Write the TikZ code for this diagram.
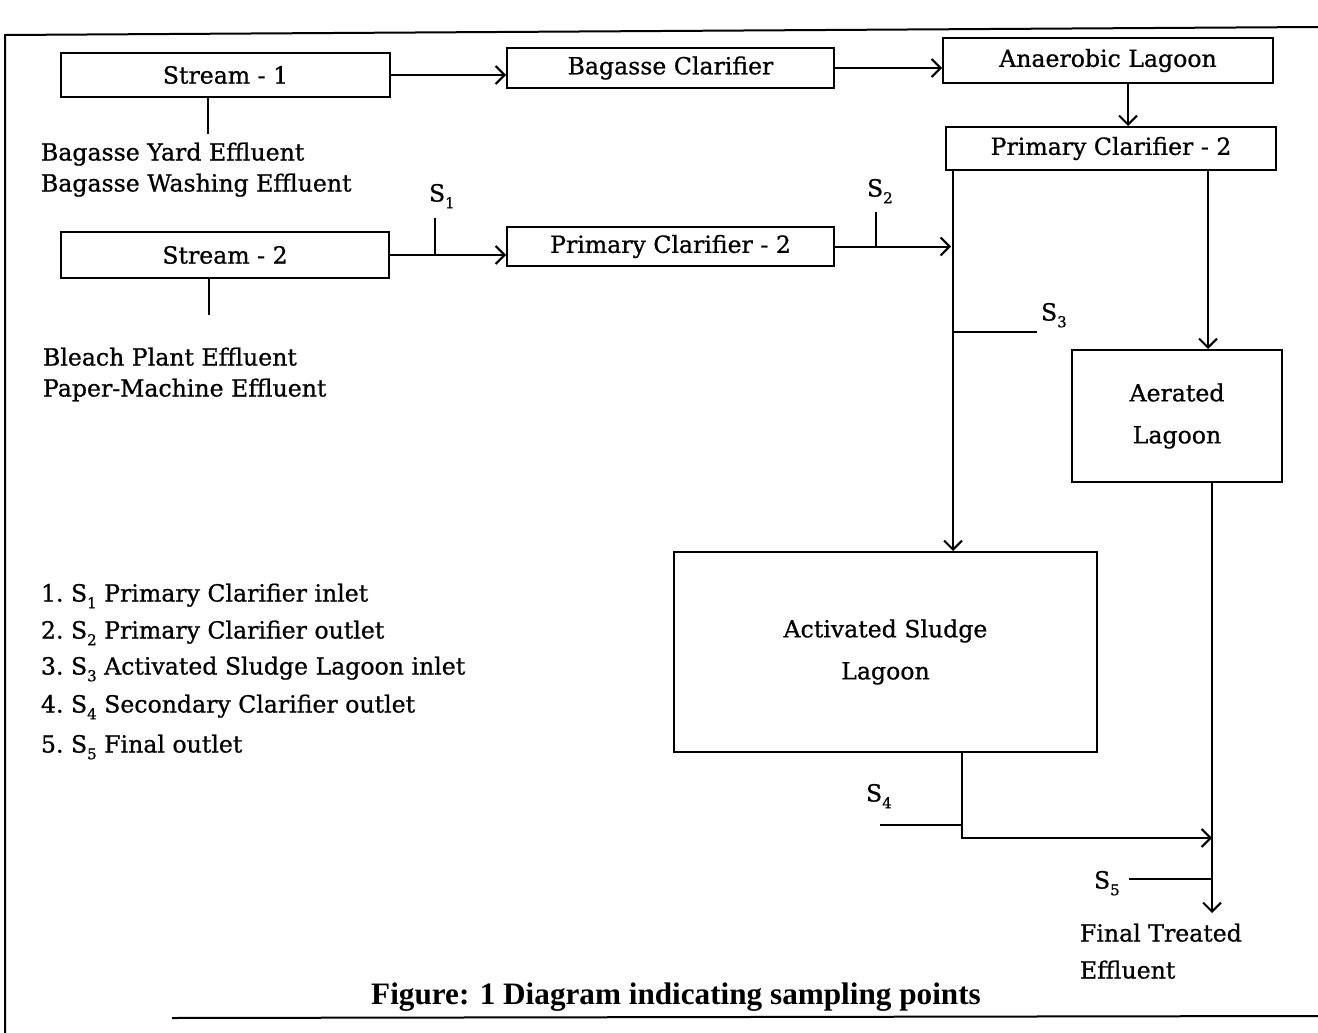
\documentclass[tikz,border=0pt]{standalone}
\usepackage{fontspec}
\setmainfont{DejaVu Serif}[FakeBold=0.8]
\newfontfamily\titlefont{Liberation Serif}
\usetikzlibrary{arrows.meta,calc}
\newcommand{\Ssub}[1]{S\raisebox{-0.55ex}{\fontsize{7.5}{7.5}\selectfont #1}}
\begin{document}
\begin{tikzpicture}[x=0.5pt,y=-0.5pt,
  line width=1pt,
  every node/.style={font=\fontsize{11.8}{21}\selectfont},
  box/.style={draw, line width=1pt, inner sep=0pt, align=center},
  lbl/.style={inner sep=0pt, text height=8.5pt, text depth=0pt, anchor=west},
  arr/.style={-{Straight Barb[length=4.5pt,width=9pt]}}]
\useasboundingbox (0,0) rectangle (1318,1033);
% frame
\draw (5,1033) -- (5,35) -- (1318,27);
\draw (172,1018) -- (1318,1016);
% boxes
\node[box, minimum width=164.5pt, minimum height=22pt] (s1) at (225.5,75) {Stream - 1};
\node[box, minimum width=163.5pt, minimum height=20pt] (bc) at (670.5,68) {Bagasse Clarifier};
\node[box, minimum width=165pt, minimum height=22.5pt] (al) at (1108,60.5) {Anaerobic Lagoon};
\node[box, minimum width=165pt, minimum height=21.5pt] (pc1) at (1111,148.5) {Primary Clarifier - 2};
\node[box, minimum width=164pt, minimum height=23pt] (s2) at (225,255) {Stream - 2};
\node[box, minimum width=163.5pt, minimum height=19.5pt] (pc2) at (670.5,246.5) {Primary Clarifier - 2};
\node[box, minimum width=105pt, minimum height=66pt] (aer) at (1177,416) {Aerated\\Lagoon};
\node[box, minimum width=211.5pt, minimum height=100pt] (asl) at (885.5,652) {Activated Sludge\\Lagoon};
% named coordinates
\coordinate (s1d) at ($(s1.south)+(-17.5,36)$);
\coordinate (s2d) at ($(s2.south)+(-16,36)$);
\coordinate (lvtop) at ([xshift=4pt]pc1.south west);
\coordinate (rvtop) at ([xshift=-34.5pt]pc1.south east);
\coordinate (j1) at (435,255);
\coordinate (j1t) at (435,218);
\coordinate (j2) at (876,246.5);
\coordinate (j2t) at (876,212);
\coordinate (j3) at (954,332);
\coordinate (j3e) at (1037,332);
\coordinate (abot) at ([xshift=38.25pt]asl.south);
\coordinate (j4) at ($(abot)+(0,85)$);
\coordinate (j4b) at ($(abot)+(0,72)$);
\coordinate (rbot) at ([xshift=17.5pt]aer.south);
\coordinate (fin) at ($(rbot)+(0,430)$);
\coordinate (j5) at ($(rbot)+(0,396)$);
% connectors
\draw[arr] (s1.east) -- (s1.east -| bc.west);
\draw[arr] (bc.east) -- (bc.east -| al.west);
\draw[arr] ([xshift=10pt]al.south) -- ([xshift=10pt]al.south |- pc1.north);
\draw (s1.south -| s1d) -- (s1d);
\draw (s2.south -| s2d) -- (s2d);
\draw[arr] (s2.east) -- (s2.east -| pc2.west);
\draw (j1) -- (j1t);
\draw[arr] (pc2.east) -- ([xshift=-1pt]pc2.east -| lvtop);
\draw (j2) -- (j2t);
\draw[arr] (lvtop) -- (lvtop |- asl.north);
\draw (j3) -- (j3e);
\draw[arr] (rvtop) -- (rvtop |- aer.north);
\draw[arr] (rbot) -- (fin);
\draw[arr] (abot) -- (j4) -- (j4 -| rbot);
\draw (j4b) -- (j4b -| 880,0);
\draw (j5) -- (j5 -| 1129,0);
% sampling labels
\node[lbl] (l1) at (428,193) {\Ssub{1}};
\node[lbl] (l2) at (866,188) {\Ssub{2}};
\node[lbl] (l3) at (1040,312) {\Ssub{3}};
\node[lbl] (l4) at (865,793) {\Ssub{4}};
\node[lbl] (l5) at (1093,880) {\Ssub{5}};
% side texts
\node[lbl] (t1) at (40,152) {Bagasse Yard Effluent};
\node[lbl] (t2) at (40,183) {Bagasse Washing Effluent};
\node[lbl] (t3) at (42,357) {Bleach Plant Effluent};
\node[lbl] (t4) at (42,388) {Paper-Machine Effluent};
\node[lbl] (t5) at (1079,933) {Final Treated};
\node[lbl] (t6) at (1079,970) {Effluent};
% legend
\node[lbl] (n1) at (40,593) {1.};
\node[lbl] (n2) at (40,630) {2.};
\node[lbl] (n3) at (40,666) {3.};
\node[lbl] (n4) at (40,704) {4.};
\node[lbl] (n5) at (40,744) {5.};
\node[lbl] (e1) at (70,593) {\Ssub{1} Primary Clarifier inlet};
\node[lbl] (e2) at (70,630) {\Ssub{2} Primary Clarifier outlet};
\node[lbl] (e3) at (70,666) {\Ssub{3} Activated Sludge Lagoon inlet};
\node[lbl] (e4) at (70,704) {\Ssub{4} Secondary Clarifier outlet};
\node[lbl] (e5) at (70,744) {\Ssub{5} Final outlet};
% title
\node[inner sep=0pt, font=\titlefont\bfseries\fontsize{15.6}{18}\selectfont] (title) at (676,997) {Figure: 1 Diagram indicating sampling points};
\end{tikzpicture}
\end{document}
